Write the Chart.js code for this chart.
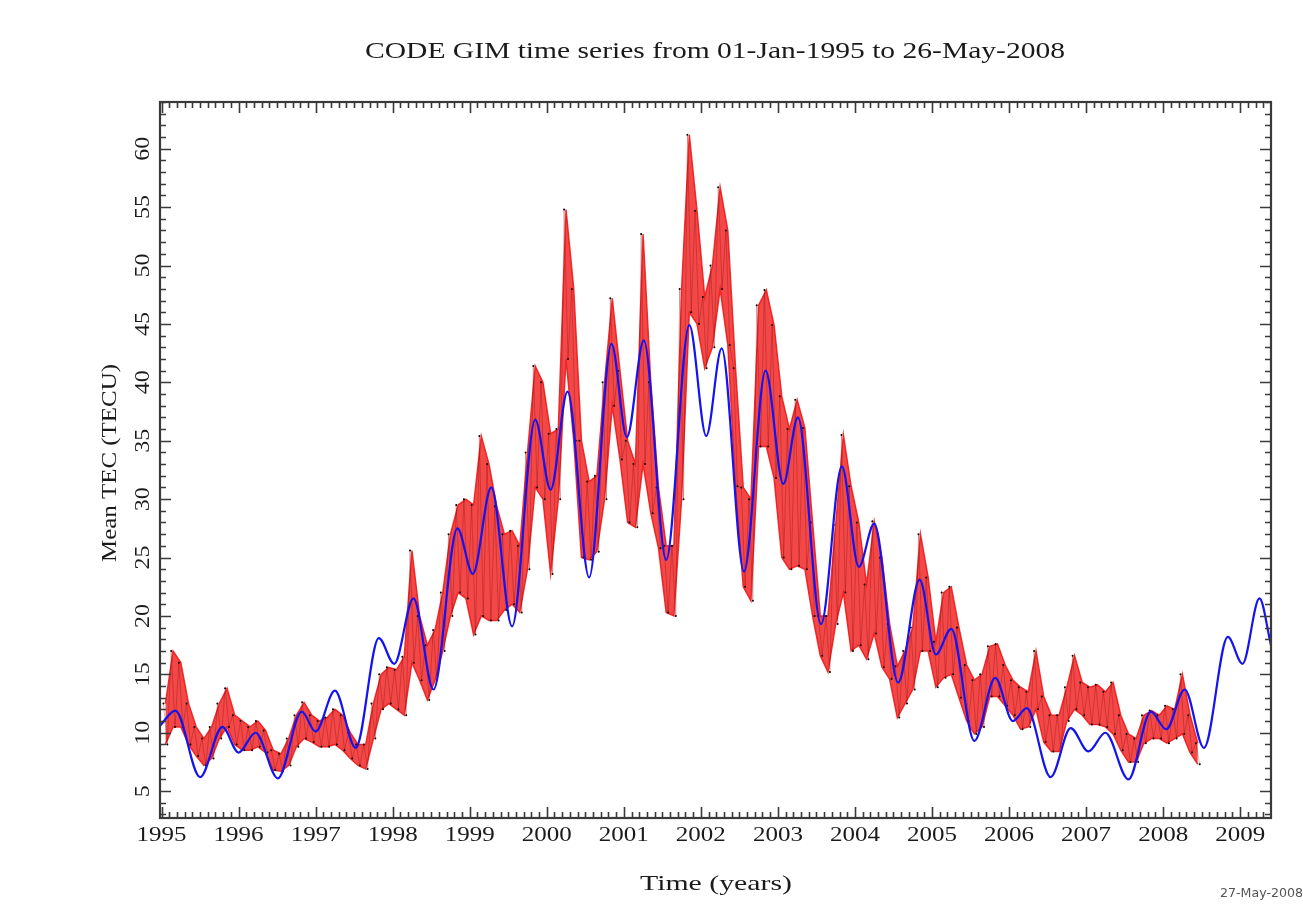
<!DOCTYPE html>
<html>
<head>
<meta charset="utf-8">
<script src="https://cdn.jsdelivr.net/npm/chart.js@4.4.1/dist/chart.umd.min.js"></script>
<style>
  html, body { margin: 0; padding: 0; background: #fff; }
  #wrap { width: 1303px; height: 909px; }
</style>
</head>
<body>
<div id="wrap"><canvas id="myChart" width="1303" height="909"></canvas></div>
<script>
// measured TEC: upper / lower envelope read per 0.1-year bin, starting 1995.0
const tecStart = 1995.0
const tecBin = 0.1
const tecHigh = [
  12.5, 17.0, 16.0, 12.5, 10.5, 9.5, 10.5, 12.5, 13.8, 11.5,
  11.0, 10.5, 11.0, 10.2, 8.5, 8.2, 9.5, 11.5, 12.6, 11.5,
  11.0, 11.3, 12.0, 11.5, 10.0, 9.0, 9.0, 12.5, 15.0, 15.6,
  15.4, 16.5, 25.6, 20.0, 17.5, 18.8, 22.0, 27.0, 29.5, 30.0,
  29.5, 35.4, 33.0, 29.4, 27.0, 27.3, 26.0, 34.0, 41.4, 40.0,
  35.6, 36.0, 54.8, 48.0, 35.0, 31.5, 32.0, 40.0, 47.2, 41.0,
  35.0, 33.0, 52.7, 40.0, 31.0, 26.0, 26.0, 48.0, 61.2, 54.7,
  47.3, 50.0, 56.7, 53.0, 41.2, 31.0, 30.0, 46.6, 47.9, 44.9,
  38.8, 36.0, 38.5, 36.1, 28.0, 20.0, 20.0, 27.8, 35.5, 31.1,
  28.0, 22.7, 28.1, 25.0, 19.3, 15.7, 17.0, 19.0, 27.0, 23.3,
  17.8, 22.0, 22.5, 19.0, 15.8, 14.5, 15.0, 17.4, 17.6, 15.8,
  14.5, 13.9, 13.5, 17.0, 13.1, 11.5, 11.5, 13.9, 16.6, 14.3,
  13.9, 14.1, 13.5, 14.3, 11.5, 9.9, 9.5, 11.5, 11.9, 11.5,
  12.3, 12.0, 15.0, 11.5, 9.1
]
const tecLow = [
  9.0, 10.5, 10.5, 9.0, 8.0, 7.2, 7.8, 9.5, 10.5, 9.0,
  8.5, 8.5, 8.8, 8.3, 6.8, 6.7, 7.2, 8.8, 9.5, 9.2,
  8.8, 8.8, 9.0, 8.5, 7.8, 7.2, 6.9, 9.5, 12.0, 12.5,
  12.0, 11.5, 16.0, 14.5, 12.8, 14.5, 17.0, 20.0, 22.0, 21.5,
  18.4, 20.0, 19.6, 19.6, 20.5, 21.0, 20.3, 24.0, 31.0, 30.0,
  23.6, 30.0, 42.0, 35.0, 25.0, 24.8, 25.5, 30.0, 38.0, 33.4,
  28.0, 27.6, 33.0, 28.8, 25.8, 20.3, 20.0, 30.0, 46.0, 45.0,
  41.2, 43.0, 48.0, 43.2, 31.1, 22.5, 21.3, 34.5, 34.5, 31.8,
  25.0, 24.0, 24.3, 24.0, 20.0, 16.6, 15.2, 19.3, 22.0, 17.0,
  17.5, 16.3, 18.5, 15.6, 14.6, 11.3, 12.5, 13.7, 17.0, 17.0,
  13.9, 14.7, 15.0, 13.0, 11.0, 9.9, 10.5, 13.1, 13.1, 12.3,
  11.5, 10.3, 10.5, 12.0, 9.2, 8.4, 8.4, 11.0, 12.0, 11.5,
  10.7, 10.7, 10.5, 9.9, 8.5, 7.5, 7.5, 9.1, 9.5, 9.5,
  9.1, 9.5, 9.9, 8.3, 7.3
]

// fitted model (blue), turning points
const modelYears = [
  1994.98, 1995.18, 1995.50, 1995.79, 1996.00, 1996.22, 1996.51, 1996.82, 1997.00,
  1997.25, 1997.52, 1997.82, 1998.02, 1998.27, 1998.53, 1998.84, 1999.04, 1999.28,
  1999.55, 1999.85, 2000.05, 2000.27, 2000.55, 2000.84, 2001.04, 2001.26, 2001.55,
  2001.85, 2002.07, 2002.27, 2002.56, 2002.84, 2003.07, 2003.26, 2003.56, 2003.83,
  2004.05, 2004.25, 2004.56, 2004.84, 2005.05, 2005.25, 2005.55, 2005.82, 2006.05,
  2006.23, 2006.54, 2006.80, 2007.03, 2007.25, 2007.55, 2007.84, 2008.04, 2008.28,
  2008.53, 2008.84, 2009.03, 2009.25, 2009.40
]
const modelTec = [
  10.6, 11.9, 6.2, 10.5, 8.3, 10.0, 6.1, 11.8, 10.1,
  13.6, 8.7, 18.1, 15.9, 21.5, 13.7, 27.5, 23.6, 31.0,
  19.1, 36.8, 30.8, 39.2, 23.3, 43.3, 35.3, 43.6, 24.8,
  44.9, 35.4, 42.9, 23.8, 41.0, 31.3, 37.0, 19.3, 32.8,
  24.2, 27.9, 14.3, 23.1, 16.7, 18.9, 9.3, 14.7, 11.0,
  12.1, 6.2, 10.4, 8.4, 10.0, 6.0, 11.8, 10.3, 13.7,
  8.7, 18.2, 15.9, 21.5, 17.5
]

const yearTicks = [1995, 1996, 1997, 1998, 1999, 2000, 2001, 2002, 2003, 2004, 2005, 2006, 2007, 2008, 2009]
const tecTicks = [5, 10, 15, 20, 25, 30, 35, 40, 45, 50, 55, 60]

// zigzag through the envelope + the envelope edges themselves
const tecPoints = []
const upperPoints = []
const lowerPoints = []
for (let i = 0; i < tecHigh.length; i++) {
  const t0 = tecStart + tecBin * i
  tecPoints.push({ x: t0 + 0.025, y: tecHigh[i] })
  tecPoints.push({ x: t0 + 0.075, y: tecLow[i] })
  upperPoints.push({ x: t0 + 0.05, y: tecHigh[i] })
  lowerPoints.push({ x: t0 + 0.05, y: tecLow[i] })
}
const modelPoints = modelYears.map((t, i) => ({ x: t, y: modelTec[i] }))

// draw text squeezed/stretched to a given width
function fitText(ctx, text, x, y, width) {
  const w = ctx.measureText(text).width
  ctx.save()
  ctx.translate(x, y)
  ctx.scale(width / w, 1)
  ctx.fillText(text, 0, 0)
  ctx.restore()
}

const frame = {
  id: "pgplotFrame",
  afterDraw: function (chart) {
    const ctx = chart.ctx
    const a = chart.chartArea
    const xs = chart.scales.x
    const ys = chart.scales.y
    ctx.save()
    ctx.strokeStyle = "#3a3a3a"
    ctx.lineWidth = 1.6

    // ticks, inward on all four sides
    ctx.beginPath()
    for (let t = 19950; t <= 20094; t++) {
      const yr = t / 10
      const px = Math.round(xs.getPixelForValue(yr)) + 0.5
      if (px < a.left || px > a.right) continue
      const len = t % 10 === 0 ? 11 : 6
      ctx.moveTo(px, a.bottom)
      ctx.lineTo(px, a.bottom - len)
      ctx.moveTo(px, a.top)
      ctx.lineTo(px, a.top + len)
    }
    for (let v = 3; v <= 64; v++) {
      const py = Math.round(ys.getPixelForValue(v)) + 0.5
      const len = v % 5 === 0 ? 11 : 6
      ctx.moveTo(a.left, py)
      ctx.lineTo(a.left + len, py)
      ctx.moveTo(a.right, py)
      ctx.lineTo(a.right - len, py)
    }
    ctx.stroke()

    ctx.lineWidth = 2.2
    ctx.strokeRect(a.left, a.top, a.right - a.left, a.bottom - a.top)

    ctx.fillStyle = "#1a1a1a"
    ctx.textAlign = "center"
    ctx.textBaseline = "middle"

    // x tick labels
    ctx.font = "20px 'Liberation Serif'"
    yearTicks.forEach((yr) => {
      fitText(ctx, String(yr), xs.getPixelForValue(yr), 836, 50)
    })

    // y tick labels, rotated like the original
    tecTicks.forEach((v) => {
      const py = ys.getPixelForValue(v)
      ctx.save()
      ctx.translate(144, py)
      ctx.rotate(-Math.PI / 2)
      fitText(ctx, String(v), 0, 0, v < 10 ? 12 : 24)
      ctx.restore()
    })

    // axis titles
    ctx.font = "22px 'Liberation Serif'"
    fitText(ctx, "Time (years)", 716, 884, 152)
    ctx.save()
    ctx.translate(110, 463)
    ctx.rotate(-Math.PI / 2)
    fitText(ctx, "Mean TEC (TECU)", 0, 0, 198)
    ctx.restore()

    // title
    ctx.font = "23px 'Liberation Serif'"
    fitText(ctx, "CODE GIM time series from 01-Jan-1995 to 26-May-2008", 715, 52, 700)

    // plot date, bottom right
    ctx.fillStyle = "#555"
    ctx.font = "12px 'DejaVu Sans'"
    ctx.textAlign = "left"
    ctx.save()
    ctx.translate(1220, 894)
    ctx.scale(1.05, 1)
    ctx.fillText("27-May-2008", 0, 0)
    ctx.restore()
    ctx.restore()
  },
}

const ctx = document.getElementById("myChart").getContext("2d")
const myChart = new Chart(ctx, {
  type: "line",
  data: {
    datasets: [
      {
        label: "Model",
        data: modelPoints,
        borderColor: "#1414f0",
        borderWidth: 2.2,
        pointRadius: 0,
        cubicInterpolationMode: "monotone",
        fill: false,
      },
      {
        label: "Mean TEC",
        data: tecPoints,
        borderColor: "rgba(110, 0, 0, 0.35)",
        borderWidth: 0.8,
        pointRadius: 1,
        pointBorderWidth: 0,
        pointBackgroundColor: "#000",
        tension: 0,
        fill: false,
      },
      {
        label: "upper",
        data: upperPoints,
        borderColor: "rgba(240, 25, 25, 0.9)",
        borderWidth: 1.5,
        pointRadius: 0,
        tension: 0,
        fill: false,
      },
      {
        label: "lower",
        data: lowerPoints,
        borderColor: "rgba(240, 25, 25, 0.9)",
        borderWidth: 1.5,
        backgroundColor: "rgba(242, 40, 40, 0.85)",
        pointRadius: 0,
        tension: 0,
        fill: "-1",
      },
    ],
  },
  options: {
    responsive: false,
    animation: false,
    devicePixelRatio: 1,
    layout: { padding: { left: 160, top: 102, right: 32, bottom: 91 } },
    scales: {
      x: { type: "linear", min: 1994.98, max: 2009.4, display: false },
      y: { min: 2.7, max: 64.0, display: false },
    },
    plugins: {
      legend: { display: false },
      tooltip: { enabled: false },
      filler: { propagate: false },
    },
  },
  plugins: [frame],
})
</script>
</body>
</html>
